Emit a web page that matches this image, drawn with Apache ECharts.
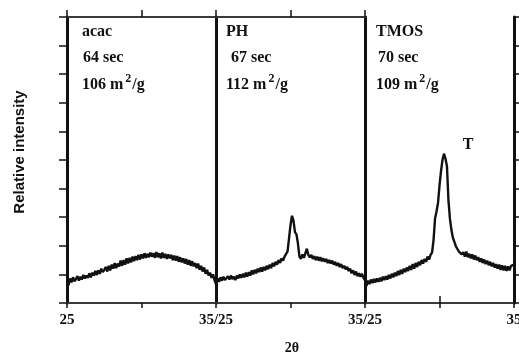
<!DOCTYPE html>
<html>
<head>
<meta charset="utf-8">
<title>XRD patterns</title>
<script src="https://cdn.jsdelivr.net/npm/echarts@6/dist/echarts.min.js"></script>
<style>
  html, body { margin: 0; padding: 0; background: #fff; }
  #chart { width: 519px; height: 353px; }
</style>
</head>
<body>
<div id="chart"></div>
<script>
// Scan range and step (degrees 2θ), shared by the three patterns
const scanStart = 25;
const scanEnd = 35;
const scanStep = 0.1;

// Relative intensity for each pattern, one value per scan step
const intensityAcac = [
  0.78, 0.62, 0.86, 0.72, 0.90, 0.76, 0.84, 0.94, 0.78, 0.92,
  0.82, 0.98, 0.86, 0.96, 0.88, 1.04, 0.90, 1.06, 0.96, 1.12,
  0.98, 1.14, 1.02, 1.20, 1.08, 1.16, 1.26, 1.10, 1.30, 1.14,
  1.34, 1.20, 1.40, 1.22, 1.38, 1.28, 1.48, 1.30, 1.50, 1.34,
  1.56, 1.38, 1.58, 1.42, 1.62, 1.46, 1.64, 1.50, 1.68, 1.52,
  1.70, 1.56, 1.74, 1.58, 1.72, 1.60, 1.76, 1.62, 1.74, 1.58,
  1.78, 1.60, 1.74, 1.56, 1.76, 1.58, 1.72, 1.54, 1.70, 1.56,
  1.68, 1.50, 1.66, 1.48, 1.64, 1.44, 1.60, 1.42, 1.56, 1.38,
  1.54, 1.34, 1.50, 1.30, 1.46, 1.28, 1.40, 1.22, 1.38, 1.16,
  1.30, 1.10, 1.24, 1.02, 1.16, 0.96, 1.06, 0.88, 1.00, 0.80,
  0.66
];
const intensityPH = [
  0.58, 0.86, 0.74, 0.90, 0.78, 0.92, 0.80, 0.86, 0.94, 0.82,
  0.96, 0.84, 0.92, 0.80, 0.96, 0.86, 1.00, 0.88, 1.02, 0.90,
  1.06, 0.92, 1.08, 0.96, 1.14, 1.00, 1.16, 1.04, 1.20, 1.08,
  1.24, 1.10, 1.26, 1.14, 1.30, 1.18, 1.34, 1.22, 1.40, 1.28,
  1.44, 1.34, 1.50, 1.40, 1.56, 1.48, 1.62, 1.58, 1.80, 2.25,
  2.72, 3.05, 2.88, 2.48, 2.40, 2.08, 1.62, 1.54, 1.70, 1.58,
  1.74, 1.90, 1.68, 1.60, 1.68, 1.54, 1.64, 1.50, 1.62, 1.48,
  1.60, 1.46, 1.56, 1.44, 1.54, 1.40, 1.50, 1.38, 1.48, 1.34,
  1.44, 1.30, 1.40, 1.26, 1.36, 1.22, 1.30, 1.18, 1.26, 1.12,
  1.20, 1.04, 1.14, 0.98, 1.10, 0.94, 1.04, 0.92, 1.02, 0.88,
  0.80
];
const intensityTMOS = [
  0.80, 0.60, 0.78, 0.66, 0.82, 0.70, 0.84, 0.72, 0.86, 0.74,
  0.88, 0.76, 0.92, 0.80, 0.94, 0.82, 0.98, 0.86, 1.02, 0.90,
  1.06, 0.94, 1.12, 0.98, 1.16, 1.02, 1.20, 1.08, 1.24, 1.12,
  1.30, 1.16, 1.36, 1.20, 1.40, 1.26, 1.44, 1.32, 1.50, 1.38,
  1.54, 1.44, 1.62, 1.52, 1.68, 1.76, 2.20, 2.95, 3.20, 3.50,
  4.10, 4.60, 5.00, 5.22, 5.05, 4.78, 3.60, 2.95, 2.55, 2.28,
  2.14, 1.98, 1.94, 1.80, 1.86, 1.70, 1.78, 1.62, 1.80, 1.60,
  1.72, 1.56, 1.70, 1.52, 1.66, 1.50, 1.60, 1.44, 1.56, 1.40,
  1.52, 1.36, 1.48, 1.32, 1.44, 1.28, 1.40, 1.24, 1.36, 1.20,
  1.34, 1.16, 1.32, 1.14, 1.30, 1.12, 1.28, 1.14, 1.30, 1.26,
  1.34
];

// Panel annotations
const panelNames = ['acac', 'PH', 'TMOS'];
const panelTimes = ['64 sec', '67 sec', '70 sec'];
const panelAreas = ['106', '112', '109'];
const panelSeries = [intensityAcac, intensityPH, intensityTMOS];

// Bottom tick labels per panel: [at 25, at 35]
const tickLabels = [['25', '35/25'], ['', '35/25'], ['', '35']];
const peakLabel = 'T';
const yAxisTitle = 'Relative intensity';
const xAxisTitle = '2θ';

const serif = 'Liberation Serif';
const ink = '#111';

// Layout of the three side-by-side panels
const plotLeft = 67, plotTop = 17, panelWidth = 149, plotHeight = 286;

const chart = echarts.init(document.getElementById('chart'), null, { renderer: 'canvas' });

const grids = [], xAxes = [], yAxes = [], series = [];
panelSeries.forEach((values, i) => {
  grids.push({
    left: plotLeft + panelWidth * i, top: plotTop, width: panelWidth, height: plotHeight,
    containLabel: false, outerBoundsMode: 'none'
  });
  // bottom scale with labels
  xAxes.push({
    gridIndex: i, type: 'value', position: 'bottom', min: scanStart, max: scanEnd, interval: 5,
    axisLine: { lineStyle: { color: '#3a3a3a', width: 2 } },
    axisTick: { length: 5, lineStyle: { color: ink, width: 1.5 } },
    splitLine: { show: false },
    axisLabel: {
      showMinLabel: true, showMaxLabel: true, margin: 10,
      fontFamily: serif, fontWeight: 'bold', fontSize: 15, color: ink,
      formatter: v => v === scanStart ? tickLabels[i][0] : (v === scanEnd ? tickLabels[i][1] : '')
    }
  });
  // top frame with upward ticks
  xAxes.push({
    gridIndex: i, type: 'value', position: 'top', min: scanStart, max: scanEnd, interval: 5,
    axisLine: { lineStyle: { color: '#3a3a3a', width: 2 } },
    axisTick: { length: 7, lineStyle: { color: ink, width: 1.5 } },
    axisLabel: { show: false }, splitLine: { show: false }
  });
  yAxes.push({
    gridIndex: i, type: 'value', min: 0, max: 10, interval: 1, position: 'left',
    axisLine: { show: true, lineStyle: { color: ink, width: 3 } },
    axisTick: { show: i === 0, length: 8, lineStyle: { color: ink, width: 1.5 } },
    axisLabel: { show: false }, splitLine: { show: false }
  });
  series.push({
    type: 'line', xAxisIndex: 2 * i, yAxisIndex: i,
    data: values.map((v, k) => [scanStart + k * scanStep, v]),
    showSymbol: false, symbol: 'none',
    lineStyle: { color: ink, width: 2.4 },
    animation: false
  });
});
// right frame of the last panel
yAxes.push({
  gridIndex: 2, type: 'value', min: 0, max: 10, interval: 1, position: 'right',
  axisLine: { show: true, lineStyle: { color: ink, width: 3 } },
  axisTick: { show: true, length: 8, lineStyle: { color: ink, width: 1.5 } },
  axisLabel: { show: false }, splitLine: { show: false }
});

// Text blocks in the upper left of each panel
const textX = [[82, 83, 82], [226, 231, 226], [376, 378, 376]];
const labelStyle = { fontFamily: serif, fontWeight: 'bold', fontSize: 16, fill: ink };
const graphics = [];
panelNames.forEach((name, i) => {
  graphics.push({ type: 'text', x: textX[i][0], y: 32, style: Object.assign({ text: name, verticalAlign: 'middle' }, labelStyle) });
  graphics.push({ type: 'text', x: textX[i][1], y: 58, style: Object.assign({ text: panelTimes[i], verticalAlign: 'middle' }, labelStyle) });
  graphics.push({
    type: 'text', x: textX[i][2], y: 83,
    style: {
      text: '{n|' + panelAreas[i] + ' m}{s|2}{n|/g}',
      verticalAlign: 'middle',
      rich: {
        n: { fontFamily: serif, fontWeight: 'bold', fontSize: 16, fill: ink, color: ink, lineHeight: 20, verticalAlign: 'bottom' },
        s: { fontFamily: serif, fontWeight: 'bold', fontSize: 12, fill: ink, color: ink, lineHeight: 20, verticalAlign: 'top', padding: [0, 1, 0, 2] }
      }
    }
  });
});
graphics.push({ type: 'text', x: 468, y: 145, style: Object.assign({ text: peakLabel, align: 'center', verticalAlign: 'middle' }, labelStyle) });
graphics.push({
  type: 'text', x: 292, y: 348,
  style: { text: xAxisTitle, align: 'center', verticalAlign: 'middle', fontFamily: serif, fontWeight: 'bold', fontSize: 14, fill: ink }
});
graphics.push({
  type: 'text', x: 20, y: 152, rotation: Math.PI / 2,
  style: { text: yAxisTitle, align: 'center', verticalAlign: 'middle', fontFamily: 'Liberation Sans', fontWeight: 'bold', fontSize: 15, fill: ink }
});

chart.setOption({
  animation: false,
  backgroundColor: '#fff',
  grid: grids,
  xAxis: xAxes,
  yAxis: yAxes,
  series: series,
  graphic: graphics
});
</script>
</body>
</html>
